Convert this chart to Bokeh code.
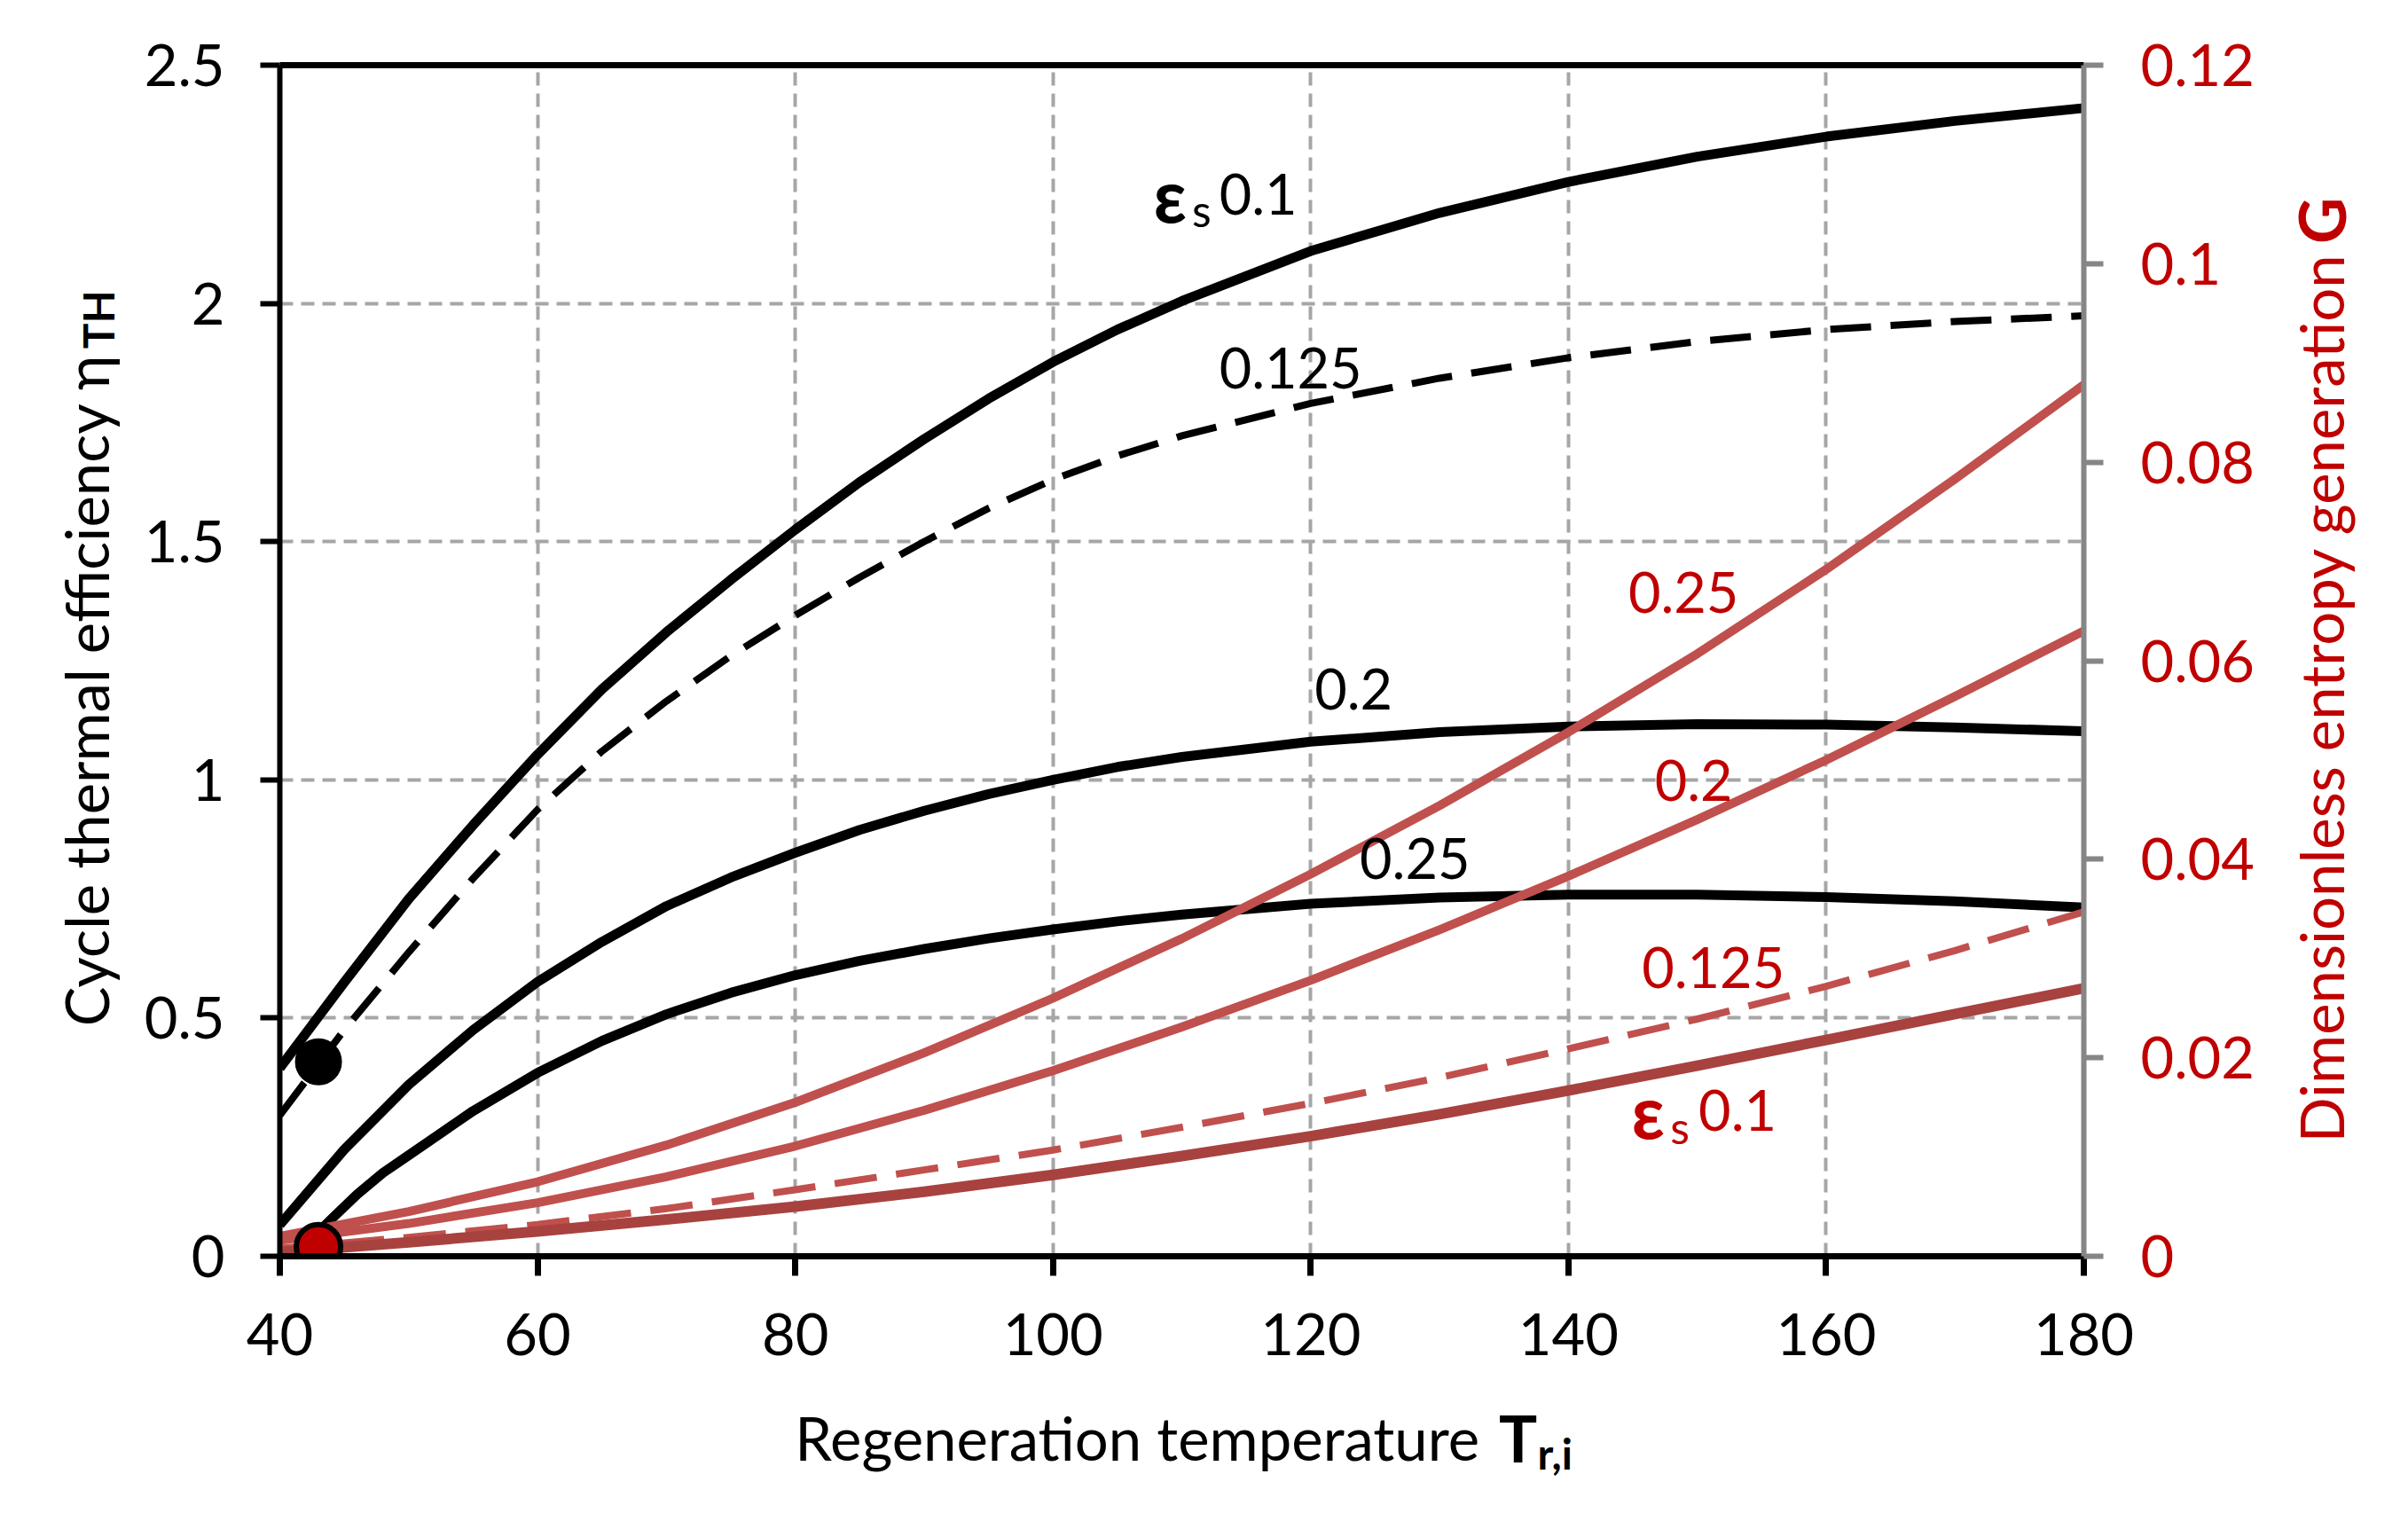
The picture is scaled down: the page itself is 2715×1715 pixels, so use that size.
import math
from bokeh.plotting import figure
from bokeh.models import Range1d, LinearAxis, FixedTicker, CustomJSTickFormatter, Label
from bokeh.embed import file_html
from bokeh.resources import INLINE

# ---------------- data ----------------
x_ticks = [40, 60, 80, 100, 120, 140, 160, 180]
eta_ticks = [0, 0.5, 1, 1.5, 2, 2.5]
g_ticks = [0, 0.02, 0.04, 0.06, 0.08, 0.1, 0.12]

# cycle thermal efficiency (left axis)
T_eta = [40, 45, 50, 55, 60, 65, 70, 75, 80, 85, 90, 95, 100, 105, 110,
         120, 130, 140, 150, 160, 170, 180]
eta_eps_010 = [0.395, 0.575, 0.75, 0.905, 1.053, 1.19, 1.31, 1.42, 1.525, 1.625, 1.715,
               1.80, 1.877, 1.945, 2.005, 2.11, 2.19, 2.255, 2.308, 2.35, 2.383, 2.41]
eta_eps_0125 = [0.296, 0.475, 0.638, 0.793, 0.9375, 1.06, 1.165, 1.26, 1.345, 1.425, 1.50,
                1.57, 1.63, 1.68, 1.722, 1.79, 1.843, 1.886, 1.92, 1.945, 1.962, 1.974]
eta_eps_020 = [0.066, 0.224, 0.36, 0.475, 0.576, 0.66, 0.735, 0.795, 0.847, 0.895, 0.935,
               0.97, 1.0, 1.027, 1.048, 1.08, 1.10, 1.112, 1.117, 1.116, 1.11, 1.102]
T_eta_025 = [41, 42, 44, 46, 48, 50, 55, 60, 65, 70, 75, 80, 85, 90, 95, 100, 105, 110,
             120, 130, 140, 150, 160, 170, 180]
eta_eps_025 = [0.0, 0.025, 0.078, 0.13, 0.175, 0.212, 0.305, 0.385, 0.452, 0.508, 0.553,
               0.59, 0.62, 0.645, 0.667, 0.686, 0.703, 0.717, 0.74, 0.753, 0.759, 0.759,
               0.754, 0.745, 0.732]

# dimensionless entropy generation (right axis)
T_G = [40, 50, 60, 70, 80, 90, 100, 110, 120, 130, 140, 150, 160, 170, 180]
G_eps_025 = [0.0020, 0.0045, 0.0075, 0.0112, 0.0155, 0.0205, 0.0260, 0.0320, 0.0385,
             0.0454, 0.0528, 0.0607, 0.0692, 0.0783, 0.0878]
G_eps_020 = [0.0016, 0.0033, 0.0054, 0.0080, 0.0111, 0.0147, 0.0187, 0.0231, 0.0278,
             0.0329, 0.0383, 0.0440, 0.0500, 0.0564, 0.0630]
G_eps_0125 = [0.0008, 0.0019, 0.0032, 0.0048, 0.0067, 0.0087, 0.0107, 0.0130, 0.0154,
              0.0180, 0.0209, 0.0239, 0.0272, 0.0308, 0.0347]
G_eps_010 = [0.0004, 0.0014, 0.0025, 0.0037, 0.0050, 0.0065, 0.0082, 0.0101, 0.0121,
             0.0143, 0.0167, 0.0192, 0.0218, 0.0244, 0.0270]

# highlighted points
point_T = [43]
point_eta = [0.408]
point_G = [0.00095]

# ---------------- styling ----------------
FONT = "Lato"
BLACK = "#000000"
RED_TEXT = "#C00000"
RED_LINE = "#C0504D"
RED_DARK = "#A8423F"
GRID = "#A6A6A6"
AXIS_GRAY = "#868686"
TICK_SIZE = "65px"
LABEL_SIZE = "63px"
TITLE_SIZE = "67px"

p = figure(width=2699, height=1699,
           x_range=Range1d(40, 180), y_range=Range1d(0, 2.5),
           output_backend="svg", toolbar_location=None,
           min_border_left=315, min_border_right=350,
           min_border_top=73, min_border_bottom=283)
p.extra_y_ranges = {"G": Range1d(0, 0.12)}
p.outline_line_color = None
p.background_fill_color = "white"
p.border_fill_color = "white"

fmt = CustomJSTickFormatter(code="return String(Math.round(tick*1000)/1000);")


def style_axis(ax, line_color, label_color, line_width, standoff):
    ax.axis_line_color = line_color
    ax.axis_line_width = line_width
    ax.major_tick_line_color = line_color
    ax.major_tick_line_width = line_width
    ax.major_tick_out = 22
    ax.major_tick_in = 0
    ax.minor_tick_line_color = None
    ax.major_label_text_font = FONT
    ax.major_label_text_font_size = TICK_SIZE
    ax.major_label_text_color = label_color
    ax.major_label_standoff = standoff
    ax.formatter = fmt


xax = p.xaxis[0]
xax.ticker = FixedTicker(ticks=x_ticks)
style_axis(xax, BLACK, BLACK, 7, 42)

yax = p.yaxis[0]
yax.ticker = FixedTicker(ticks=eta_ticks)
style_axis(yax, BLACK, BLACK, 6, 40)

rax = LinearAxis(y_range_name="G", ticker=FixedTicker(ticks=g_ticks))
style_axis(rax, AXIS_GRAY, RED_TEXT, 6, 42)
p.add_layout(rax, "right")

tax = LinearAxis(ticker=FixedTicker(ticks=[]), major_label_text_font_size="0px",
                 major_tick_line_color=None, minor_tick_line_color=None,
                 major_tick_out=0, major_tick_in=0, major_label_standoff=0,
                 axis_line_color=BLACK, axis_line_width=7)
p.add_layout(tax, "above")

for g in (p.xgrid[0], p.ygrid[0]):
    g.grid_line_color = GRID
    g.grid_line_width = 4
    g.grid_line_dash = "15 9"

# ---------------- curves ----------------
p.line(T_eta, eta_eps_010, line_color=BLACK, line_width=11, line_join="round")
p.line(T_eta, eta_eps_0125, line_color=BLACK, line_width=8, line_dash="46 22",
       line_join="round")
p.line(T_eta, eta_eps_020, line_color=BLACK, line_width=11, line_join="round")
p.line(T_eta_025, eta_eps_025, line_color=BLACK, line_width=11, line_join="round")

p.line(T_G, G_eps_025, line_color=RED_LINE, line_width=10, y_range_name="G",
       line_join="round")
p.line(T_G, G_eps_020, line_color=RED_LINE, line_width=10, y_range_name="G",
       line_join="round")
p.line(T_G, G_eps_0125, line_color=RED_LINE, line_width=8, line_dash="48 22",
       y_range_name="G", line_join="round")
p.line(T_G, G_eps_010, line_color=RED_DARK, line_width=12, y_range_name="G",
       line_join="round")

p.scatter(point_T, point_eta, size=50, fill_color=BLACK, line_color=BLACK, line_width=3)
p.scatter(point_T, point_G, size=50, fill_color=RED_TEXT, line_color=BLACK, line_width=6,
          y_range_name="G")


# ---------------- texts ----------------
def add_text(x, y, text, color=BLACK, size=LABEL_SIZE, style="normal", align="left",
             angle=0.0, place=None):
    lab = Label(x=x, y=y, text=text, text_font=FONT, text_font_size=size,
                text_font_style=style, text_color=color, text_align=align,
                text_baseline="alphabetic", angle=angle)
    if place is None:
        p.add_layout(lab)
    else:
        # side-panel placement keeps texts outside the frame from being clipped
        p.add_layout(lab, place)


# curve labels (black, efficiency)
add_text(107.8, 2.229, "ε", style="bold", size="82px")
add_text(110.8, 2.196, "s", size="50px")
add_text(112.9, 2.229, "0.1")
add_text(112.9, 1.864, "0.125")
add_text(120.3, 1.191, "0.2")
add_text(123.8, 0.835, "0.25")

# curve labels (red, entropy generation)
add_text(144.65, 1.393, "0.25", color=RED_TEXT)
add_text(146.7, 0.999, "0.2", color=RED_TEXT)
add_text(145.7, 0.606, "0.125", color=RED_TEXT)
add_text(144.9, 0.306, "ε", color=RED_TEXT, style="bold", size="82px")
add_text(147.9, 0.271, "s", color=RED_TEXT, size="50px")
add_text(150.1, 0.306, "0.1", color=RED_TEXT)

# axis titles (data coordinates outside the frame)
half_pi = math.pi / 2
add_text(133.1, -0.381, "Regeneration temperature", size=TITLE_SIZE, align="right",
         place="below")
add_text(134.6, -0.381, "T", size="72px", style="bold", place="left")
add_text(137.6, -0.413, "r,i", size="48px", style="bold", place="right")

add_text(24.93, 1.894, "Cycle thermal efficiency η", size=TITLE_SIZE, align="right",
         angle=half_pi, place="left")
add_text(25.9, 1.905, "TH", size="48px", style="bold", angle=half_pi, place="above")

add_text(198.4, 2.105, "Dimensionless entropy generation", color=RED_TEXT,
         size=TITLE_SIZE, align="right", angle=half_pi, place="right")
add_text(198.4, 2.125, "G", color=RED_TEXT, size="72px", style="bold", angle=half_pi,
         place="below")

open("out.html", "w").write(file_html(p, INLINE))
